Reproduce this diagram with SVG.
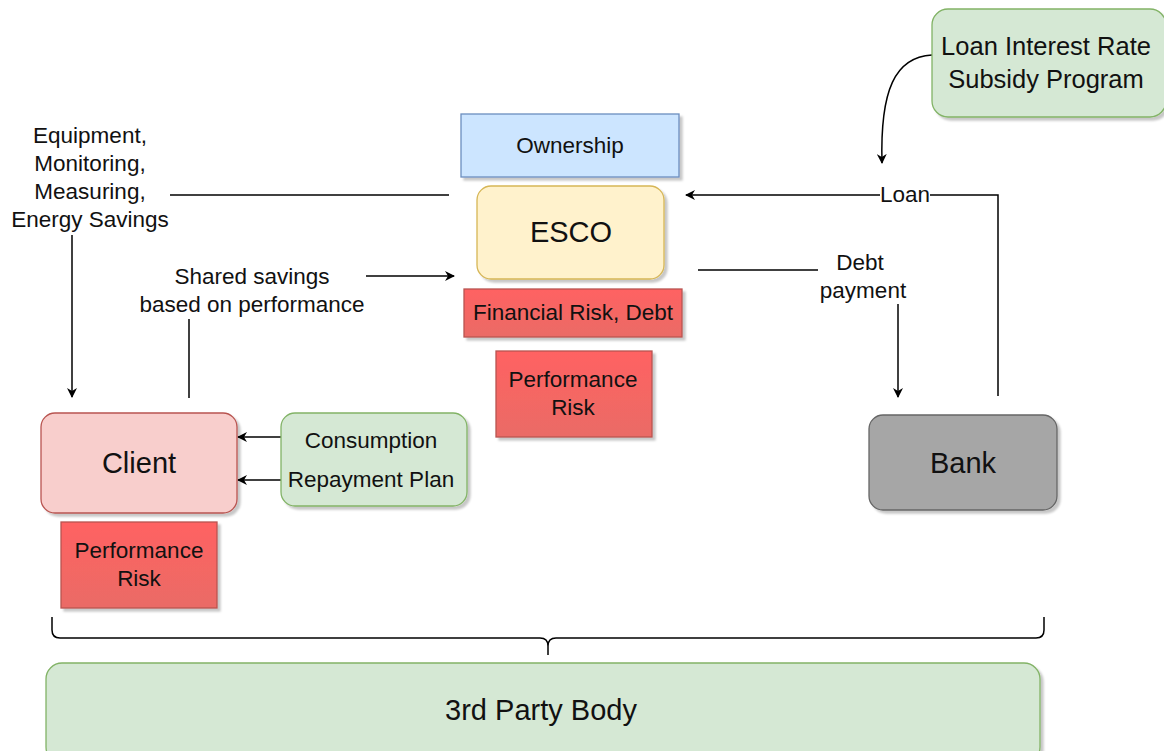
<svg xmlns="http://www.w3.org/2000/svg" width="1164" height="751" viewBox="0 0 1164 751">
  <defs>
    <filter id="shadow" x="-10%" y="-10%" width="120%" height="130%">
      <feDropShadow dx="3" dy="3" stdDeviation="1" flood-color="#000" flood-opacity="0.22"/>
    </filter>
    <linearGradient id="riskFill" x1="0" y1="0" x2="0" y2="1">
      <stop offset="0" stop-color="#ff6262"/>
      <stop offset="1" stop-color="#ea6b66"/>
    </linearGradient>
    <marker id="arrow" viewBox="0 0 10 10" refX="9" refY="5" markerWidth="10" markerHeight="10" markerUnits="userSpaceOnUse" orient="auto">
      <path d="M0,0 L10,5 L0,10 L3,5 Z" fill="#000"/>
    </marker>
    <style>
      text { font-family: "Liberation Sans", Arial, sans-serif; fill: #111; text-anchor: middle; }
      .sm { font-size: 22.5px; }
      .lg { font-size: 29px; }
      .md { font-size: 25.5px; }
      .box { filter: url(#shadow); stroke-width: 1.3; }
      .blue { fill: #cce5ff; stroke: #6c8ebf; }
      .yellow { fill: #fff2cc; stroke: #d6b656; }
      .red { fill: url(#riskFill); stroke: #b85450; }
      .pink { fill: #f8cecc; stroke: #b85450; }
      .green { fill: #d5e8d4; stroke: #82b366; }
      .gray { fill: #a6a6a6; stroke: #666666; }
      .edge { fill: none; stroke: #000; stroke-width: 1.5; }
      .arr { marker-end: url(#arrow); }
    </style>
  </defs>

  <!-- connectors -->
  <g id="connectors">
    <!-- ESCO supplies equipment / monitoring to the client -->
    <path class="edge" d="M170,195 H449"/>
    <path class="edge arr" d="M72,235 V397"/>
    <!-- shared savings from client to ESCO -->
    <path class="edge" d="M189,319 V398"/>
    <path class="edge arr" d="M366,276 H454"/>
    <!-- loan from bank to ESCO -->
    <path class="edge arr" d="M998,396 V195 H686"/>
    <!-- debt payment from ESCO to bank -->
    <path class="edge" d="M698,270 H818"/>
    <path class="edge arr" d="M898,304 V397"/>
    <!-- subsidy program acting on the loan -->
    <path class="edge arr" d="M932,55 C895,57 880,90 882,163"/>
    <!-- consumption / repayment plan to client -->
    <path class="edge arr" d="M281,437 H238"/>
    <path class="edge arr" d="M281,480 H238"/>
    <!-- brace grouping the parties above the 3rd party body -->
    <path class="edge" stroke="#333" d="M52,617 V630 Q52,638 60,638 H540 Q548,638 548,646 V655 M548,646 Q548,638 556,638 H1036 Q1044,638 1044,630 V617"/>
    <!-- loan edge label on a white backing -->
    <rect x="880" y="182" width="50" height="24" fill="#fff"/>
    <text class="sm" x="905" y="202">Loan</text>
  </g>

  <g id="labels">
    <text class="sm" x="90" y="143">Equipment,</text>
    <text class="sm" x="90" y="171">Monitoring,</text>
    <text class="sm" x="90" y="199">Measuring,</text>
    <text class="sm" x="90" y="227">Energy Savings</text>
    <text class="sm" x="252" y="284">Shared savings</text>
    <text class="sm" x="252" y="312">based on performance</text>
    <text class="sm" x="860" y="270">Debt</text>
    <text class="sm" x="863" y="298">payment</text>
  </g>

  <g id="ownership">
    <rect class="box blue" x="461" y="114" width="218" height="63"/>
    <text class="sm" x="570" y="153">Ownership</text>
  </g>

  <g id="esco">
    <rect class="box yellow" x="477" y="186" width="187" height="93" rx="14"/>
    <text class="lg" x="571" y="242">ESCO</text>
  </g>

  <g id="financial-risk">
    <rect class="box red" x="464" y="289" width="218" height="48"/>
    <text class="sm" x="573" y="320">Financial Risk, Debt</text>
  </g>

  <g id="esco-performance-risk">
    <rect class="box red" x="496" y="351" width="156" height="86"/>
    <text class="sm" x="573" y="387">Performance</text>
    <text class="sm" x="573" y="415">Risk</text>
  </g>

  <g id="client">
    <rect class="box pink" x="41" y="413" width="196" height="100" rx="14"/>
    <text class="lg" x="139" y="473">Client</text>
  </g>

  <g id="consumption-plan">
    <rect class="box green" x="281" y="413" width="186" height="93" rx="14"/>
    <text class="sm" x="371" y="448">Consumption</text>
    <text class="sm" x="371" y="487">Repayment Plan</text>
  </g>

  <g id="client-performance-risk">
    <rect class="box red" x="61" y="522" width="156" height="86"/>
    <text class="sm" x="139" y="558">Performance</text>
    <text class="sm" x="139" y="586">Risk</text>
  </g>

  <g id="bank">
    <rect class="box gray" x="869" y="415" width="188" height="95" rx="14"/>
    <text class="lg" x="963" y="473">Bank</text>
  </g>

  <g id="subsidy-program">
    <rect class="box green" x="932" y="9" width="234" height="108" rx="16"/>
    <text class="md" x="1046" y="55">Loan Interest Rate</text>
    <text class="md" x="1046" y="88">Subsidy Program</text>
  </g>

  <g id="third-party-body">
    <rect class="box green" x="46" y="663" width="994" height="100" rx="16"/>
    <text class="lg" x="541" y="720">3rd Party Body</text>
  </g>
</svg>
